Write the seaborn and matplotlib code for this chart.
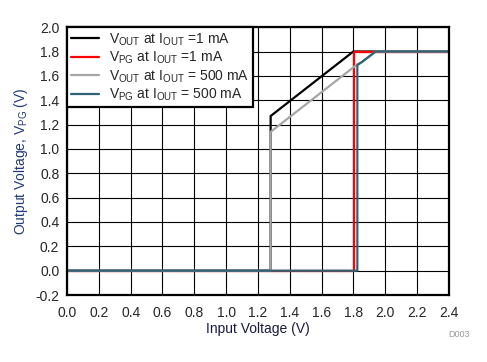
import matplotlib
matplotlib.use("Agg")
import matplotlib.pyplot as plt
import numpy as np
import pandas as pd
import seaborn as sns

# curve data
vin_vout_1ma = [0.0, 1.28, 1.28, 1.80, 2.40]
vout_1ma = [0.0, 0.0, 1.27, 1.80, 1.80]

vin_vpg_1ma = [0.0, 1.805, 1.805, 2.40]
vpg_1ma = [0.0, 0.0, 1.80, 1.80]

vin_vout_500ma = [0.0, 1.28, 1.28, 1.82, 1.85, 1.88, 1.91, 1.94, 2.40]
vout_500ma = [0.0, 0.0, 1.14, 1.69, 1.71, 1.74, 1.77, 1.80, 1.80]

vin_vpg_500ma = [0.0, 1.825, 1.825, 1.85, 1.88, 1.91, 1.94, 2.40]
vpg_500ma = [0.0, 0.0, 1.69, 1.71, 1.74, 1.77, 1.80, 1.80]

labels = [r"V$_{\mathrm{OUT}}$ at I$_{\mathrm{OUT}}$ =1 mA",
          r"V$_{\mathrm{PG}}$ at I$_{\mathrm{OUT}}$ =1 mA",
          r"V$_{\mathrm{OUT}}$ at I$_{\mathrm{OUT}}$ = 500 mA",
          r"V$_{\mathrm{PG}}$ at I$_{\mathrm{OUT}}$ = 500 mA"]
colors = ["#000000", "#FF0000", "#A6A6A6", "#2F6378"]

x_ticks = np.round(np.arange(0, 2.41, 0.2), 1)
y_ticks = np.round(np.arange(-0.2, 2.01, 0.2), 1)

sns.set_style("white")
plt.rcParams["font.family"] = ["Liberation Sans", "DejaVu Sans"]
plt.rcParams["mathtext.fontset"] = "custom"
plt.rcParams["mathtext.rm"] = "Liberation Sans"
plt.rcParams["mathtext.it"] = "Liberation Sans"

fig = plt.figure(figsize=(4.87, 3.62), dpi=100)
ax = fig.add_axes([0.1376, 0.185, 0.784, 0.74])

series = [(vin_vout_1ma, vout_1ma), (vin_vpg_1ma, vpg_1ma),
          (vin_vout_500ma, vout_500ma), (vin_vpg_500ma, vpg_500ma)]
for (xs, ys), lab, col in zip(series, labels, colors):
    df = pd.DataFrame({"vin": xs, "v": ys})
    sns.lineplot(data=df, x="vin", y="v", ax=ax, color=col, lw=1.6,
                 label=lab, estimator=None, sort=False)

ax.set_xlim(0, 2.4)
ax.set_ylim(-0.2, 2.0)
ax.set_xticks(x_ticks)
ax.set_yticks(y_ticks)
ax.set_xticklabels([f"{t:.1f}" for t in x_ticks], fontsize=10)
ax.set_yticklabels([f"{t:.1f}" for t in y_ticks], fontsize=10)
ax.tick_params(axis="x", length=0, pad=8)
ax.tick_params(axis="y", length=0, pad=5.5)
ax.grid(True, color="black", lw=0.8)
for s in ax.spines.values():
    s.set_color("black")
    s.set_linewidth(1.6)
    s.set_visible(True)

ax.set_xlabel("Input Voltage (V)", fontsize=10, color="#1A1A40", labelpad=1)
ax.set_ylabel(r"Output Voltage, V$_{\mathrm{PG}}$ (V)", fontsize=10,
              color="#1F3A78", labelpad=4)

leg = ax.legend(loc="upper left", fontsize=10, frameon=True, fancybox=False,
                edgecolor="black", framealpha=1, borderaxespad=0,
                labelspacing=0.15, handlelength=2.0, handletextpad=0.7,
                borderpad=0.3)
leg.get_frame().set_linewidth(1.6)

fig.text(0.965, 0.068, "D003", fontsize=6.5, color="#999999", ha="right")

fig.savefig("out.png", dpi=100)
